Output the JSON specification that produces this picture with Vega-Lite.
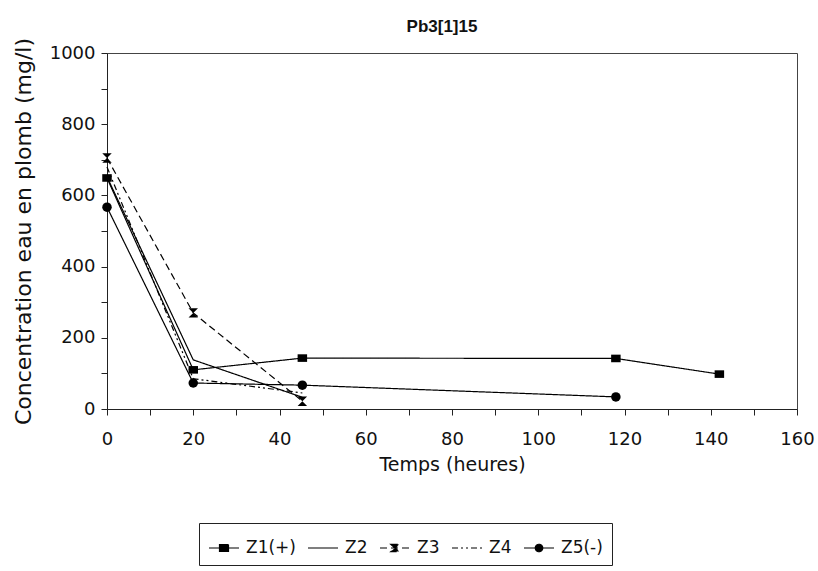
{
  "$schema": "https://vega.github.io/schema/vega-lite/v6.json",
  "autosize": "none",
  "width": 690,
  "height": 356,
  "padding": {"left": 107, "top": 53, "right": 21, "bottom": 162},
  "background": "white",
  "config": {
    "font": "DejaVu Sans",
    "view": {"stroke": "#444", "strokeWidth": 1},
    "axis": {"grid": false, "domainColor": "#222", "tickColor": "#222", "labelColor": "#111", "titleColor": "#111", "labelFont": "DejaVu Sans", "titleFont": "DejaVu Sans", "labelFontSize": 18, "titleFontSize": 19, "titleFontWeight": "normal"}
  },
  "title": {"text": "Pb3[1]15", "font": "Liberation Sans", "fontSize": 17, "fontWeight": "bold", "color": "#111", "offset": 9, "dx": -10, "dy": 8},
  "data": {
    "values": [
      {"t": 0, "c": 649, "s": "Z1(+)"},
      {"t": 20, "c": 110, "s": "Z1(+)"},
      {"t": 45.3, "c": 143, "s": "Z1(+)"},
      {"t": 118, "c": 142, "s": "Z1(+)"},
      {"t": 142, "c": 98, "s": "Z1(+)"},
      {"t": 0, "c": 652, "s": "Z2"},
      {"t": 20, "c": 138, "s": "Z2"},
      {"t": 45.3, "c": 33, "s": "Z2"},
      {"t": 0, "c": 705, "s": "Z3"},
      {"t": 20, "c": 270, "s": "Z3"},
      {"t": 45.3, "c": 22, "s": "Z3"},
      {"t": 0, "c": 680, "s": "Z4"},
      {"t": 20, "c": 85, "s": "Z4"},
      {"t": 45.3, "c": 45, "s": "Z4"},
      {"t": 0, "c": 567, "s": "Z5(-)"},
      {"t": 20, "c": 73, "s": "Z5(-)"},
      {"t": 45.3, "c": 67, "s": "Z5(-)"},
      {"t": 118, "c": 34, "s": "Z5(-)"}
    ]
  },
  "encoding": {
    "x": {"field": "t", "type": "quantitative", "scale": {"domain": [0, 160], "nice": false},
      "axis": {"title": "Temps (heures)", "values": [0,10,20,30,40,50,60,70,80,90,100,110,120,130,140,150,160], "labelExpr": "datum.value % 20 == 0 ? datum.label : ''", "tickSize": 6, "labelPadding": 15, "titlePadding": 7, "labelFlush": false}},
    "y": {"field": "c", "type": "quantitative", "scale": {"domain": [0, 1000], "nice": false},
      "axis": {"title": "Concentration eau en plomb (mg/l)", "titleFontSize": 22, "values": [0,100,200,300,400,500,600,700,800,900,1000], "labelExpr": "datum.value % 200 == 0 ? datum.label : ''", "tickSize": 6, "labelPadding": 6, "titlePadding": 14, "format": "d"}}
  },
  "layer": [
    {
      "mark": {"type": "line", "color": "black", "strokeWidth": 1.2},
      "encoding": {
        "detail": {"field": "s"},
        "strokeDash": {"field": "s", "type": "nominal",
          "scale": {"domain": ["Z1(+)", "Z2", "Z3", "Z4", "Z5(-)"], "range": [[1, 0], [1, 0], [7, 4], [6, 3, 2, 3, 2, 3], [1, 0]]},
          "legend": {
            "title": null, "orient": "none", "legendX": 92, "legendY": 470, "direction": "horizontal",
            "strokeColor": "#222", "padding": 9, "fillColor": "white",
            "symbolSize": 900, "symbolStrokeColor": "black", "symbolStrokeWidth": 1.2,
            "labelFont": "DejaVu Sans", "labelFontSize": 17, "labelColor": "#111", "columnPadding": 9, "labelOffset": 6,
            "encode": {"symbols": {"update": {
              "shape": {"signal": "datum.value == 'Z1(+)' ? 'M-1,0H1M-0.3,-0.22H0.3V0.22H-0.3Z' : datum.value == 'Z3' ? 'M-1,0H1M-0.28,-0.24H0.28L0,0L0.28,0.24H-0.28L0,0Z' : datum.value == 'Z5(-)' ? 'M-1,0H1M0.25,0A0.25,0.25 0 1,1 -0.25,0A0.25,0.25 0 1,1 0.25,0Z' : 'M-1,0H1'"},
              "size": {"value": 900},
              "stroke": {"value": "black"},
              "strokeWidth": {"value": 1.2},
              "strokeOpacity": {"value": 1},
              "opacity": {"value": 1},
              "fill": {"value": "black"},
              "fillOpacity": {"value": 1}
            }}}
          }}
      }
    },
    {
      "transform": [{"filter": "datum.s == 'Z1(+)' || datum.s == 'Z3' || datum.s == 'Z5(-)'"}],
      "mark": {"type": "point", "filled": true, "color": "black", "opacity": 1, "size": 90},
      "encoding": {
        "shape": {"field": "s", "type": "nominal", "legend": null,
          "scale": {"domain": ["Z1(+)", "Z3", "Z5(-)"], "range": ["M-1,-0.8H1V0.8H-1Z", "M-1,-1H1L0,0L1,1H-1L0,0Z", "circle"]}}
      }
    }
  ]
}
